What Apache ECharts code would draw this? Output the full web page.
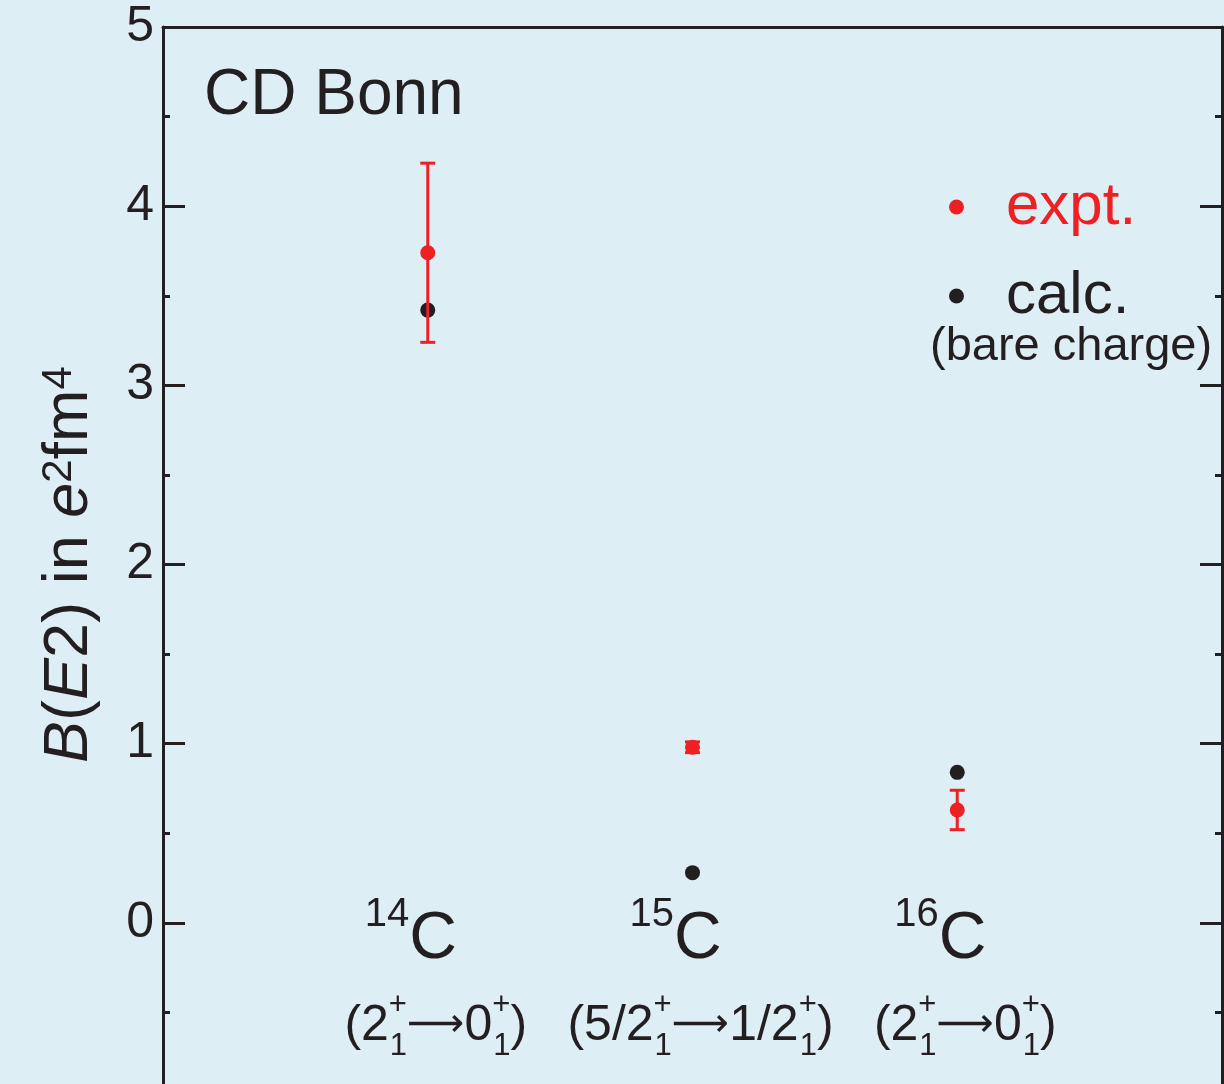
<!DOCTYPE html>
<html>
<head>
<meta charset="utf-8">
<title>B(E2) CD Bonn</title>
<script src="https://cdn.jsdelivr.net/npm/echarts@6/dist/echarts.min.js"></script>
<style>
  html, body { margin: 0; padding: 0; background: #ddeef5; overflow: hidden; }
  /* taller than the window so that the axis runs down to -1, cut off below 1084 */
  #main { width: 1224px; height: 1102px; }
</style>
</head>
<body>
<div id="main"></div>
<script>
// nuclei along the x axis
const massNumbers = ['14', '15', '16'];
const xPos = [1, 2, 3];
const initialSpins = ['2', '5/2', '2'];
const finalSpins = ['0', '1/2', '0'];

// B(E2) in e^2 fm^4
const exptValues = [3.74, 0.98, 0.63];
const exptLow = [3.24, 0.95, 0.52];
const exptHigh = [4.24, 1.01, 0.74];
const calcValues = [3.42, 0.28, 0.84];

const yMin = -1;
const yMax = 5;

const RED = '#ed2024';
const INK = '#231f20';
const FONT = '"Liberation Sans", Arial, Helvetica, sans-serif';

const chart = echarts.init(document.getElementById('main'));

const yAxisBase = {
  type: 'value',
  min: yMin,
  max: yMax,
  interval: 1,
  axisLine: { show: true, onZero: false, lineStyle: { color: INK, width: 3 } },
  axisTick: { show: true, inside: true, length: 22, lineStyle: { color: INK, width: 3 } },
  minorTick: { show: true, splitNumber: 2, length: 7, lineStyle: { color: INK, width: 3 } },
  splitLine: { show: false },
  minorSplitLine: { show: false }
};

const hidden = { color: 'rgba(0,0,0,0)', opacity: 1 };

const option = {
  backgroundColor: '#ddeef5',
  animation: false,
  textStyle: { fontFamily: FONT },
  title: {
    text: 'CD Bonn',
    left: 204,
    top: 64,
    padding: 0,
    textStyle: { fontFamily: FONT, fontSize: 64, fontWeight: 'normal', color: INK }
  },
  legend: {
    orient: 'vertical',
    left: 949,
    top: 177,
    padding: 0,
    itemGap: 29,
    itemWidth: 15,
    itemHeight: 15,
    icon: 'circle',
    selectedMode: false,
    data: [
      { name: 'expt.', textStyle: { color: RED } },
      { name: 'calc.', textStyle: { color: INK } }
    ],
    textStyle: { fontFamily: FONT, fontSize: 60, lineHeight: 60, padding: [0, 0, 0, 37] }
  },
  graphic: [{
    type: 'text',
    left: 930,
    top: 324,
    style: { text: '(bare charge)', font: '47px ' + FONT, fill: INK }
  }],
  grid: { left: 163, right: 2, top: 27, bottom: 0, containLabel: false },
  xAxis: {
    type: 'value',
    min: 0,
    max: 4,
    position: 'top',
    axisLine: { show: true, onZero: false, lineStyle: { color: INK, width: 3 } },
    axisTick: { show: false },
    axisLabel: { show: false },
    splitLine: { show: false }
  },
  yAxis: [
    Object.assign({}, yAxisBase, {
      position: 'left',
      name: '{i|B}({i|E}2) in {i|e}{s|2}fm{s|4}',
      nameLocation: 'middle',
      nameGap: 62,
      nameTextStyle: {
        fontFamily: FONT,
        fontSize: 63,
        color: INK,
        rich: {
          i: { fontFamily: FONT, fontSize: 63, fontStyle: 'italic', color: INK },
          s: { fontFamily: FONT, fontSize: 42, color: INK, verticalAlign: 'top', lineHeight: 40 }
        }
      },
      axisLabel: { show: true, margin: 9, fontFamily: FONT, fontSize: 50, color: INK,
        formatter: v => (v < 0 ? '' : String(v)) }
    }),
    Object.assign({}, yAxisBase, {
      position: 'right',
      axisLabel: { show: false }
    })
  ],
  series: [
    {
      name: 'calc.',
      type: 'scatter',
      symbol: 'circle',
      symbolSize: 15,
      itemStyle: { color: INK, opacity: 1 },
      z: 2,
      data: xPos.map((x, i) => [x, calcValues[i]])
    },
    {
      name: 'exptErr',
      type: 'custom',
      z: 3,
      silent: true,
      renderItem: (params, api) => {
        const x = api.value(0);
        const lo = api.coord([x, api.value(1)]);
        const hi = api.coord([x, api.value(2)]);
        const hw = 7.5;
        const st = { stroke: RED, lineWidth: 3 };
        return {
          type: 'group',
          children: [
            { type: 'line', shape: { x1: lo[0], y1: lo[1], x2: hi[0], y2: hi[1] }, style: st },
            { type: 'line', shape: { x1: lo[0] - hw, y1: lo[1], x2: lo[0] + hw, y2: lo[1] }, style: st },
            { type: 'line', shape: { x1: hi[0] - hw, y1: hi[1], x2: hi[0] + hw, y2: hi[1] }, style: st }
          ]
        };
      },
      encode: { x: 0, y: [1, 2] },
      data: xPos.map((x, i) => [x, exptLow[i], exptHigh[i]])
    },
    {
      name: 'expt.',
      type: 'scatter',
      symbol: 'circle',
      symbolSize: 15,
      itemStyle: { color: RED, opacity: 1 },
      z: 4,
      data: xPos.map((x, i) => [x, exptValues[i]])
    },
    {
      // nucleus names below the points
      name: 'nucleus',
      type: 'scatter',
      symbolSize: 1,
      itemStyle: hidden,
      silent: true,
      data: xPos.map(x => [x, 0]),
      label: {
        show: true,
        position: 'inside',
        offset: [-17, 11],
        color: INK,
        formatter: p => '{s|' + massNumbers[p.dataIndex] + '}{c|C}',
        rich: {
          s: { fontFamily: FONT, fontSize: 40, color: INK, verticalAlign: 'top' },
          c: { fontFamily: FONT, fontSize: 66, color: INK, verticalAlign: 'bottom', lineHeight: 78 }
        }
      }
    },
    {
      // transition under each nucleus; sup "+" has ~zero width so the sub "1" stacks under it
      name: 'transition',
      type: 'scatter',
      symbolSize: 1,
      itemStyle: hidden,
      silent: true,
      data: xPos.map(x => [x, 0]),
      label: {
        show: true,
        position: 'inside',
        offset: [8, 103],
        color: INK,
        formatter: p => {
          const i = p.dataIndex;
          return '{n|(' + initialSpins[i] + '}{p|+}{b|1}{a|\u27F6}{n|' + finalSpins[i] + '}{p|+}{b|1}{n|)}';
        },
        rich: {
          n: { fontFamily: FONT, fontSize: 50, color: INK, lineHeight: 72, align: 'left' },
          a: { fontFamily: '"DejaVu Sans", sans-serif', fontSize: 40, color: INK, lineHeight: 72, align: 'left' },
          p: { fontFamily: FONT, fontSize: 31, color: INK, verticalAlign: 'top', align: 'left', width: 1 },
          b: { fontFamily: FONT, fontSize: 31, color: INK, verticalAlign: 'bottom', align: 'left' }
        }
      }
    }
  ]
};

chart.setOption(option);
</script>
</body>
</html>
